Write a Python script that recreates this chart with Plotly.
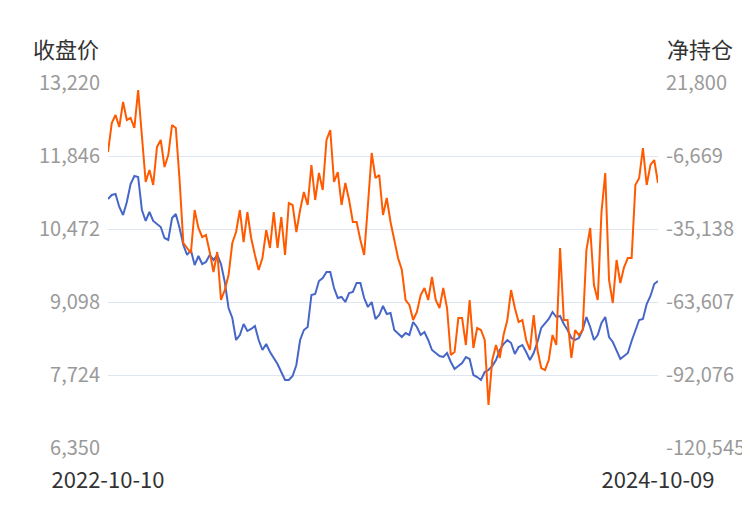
import pandas as pd
import plotly.graph_objects as go

start_date = "2022-10-10"
end_date = "2024-10-09"
step_days = 5

close_price = [
    11037, 11112, 11131, 10886, 10735, 10980, 11319, 11470, 11451, 10830,
    10623, 10792, 10623, 10566, 10510, 10303, 10265, 10679, 10754, 10491,
    10171, 9983, 10077, 9794, 9964, 9813, 9851, 9983, 9889, 9983,
    9813, 9474, 8985, 8797, 8383, 8477, 8684, 8552, 8590, 8646,
    8383, 8195, 8307, 8157, 8044, 7931, 7780, 7630, 7630, 7705,
    7912, 8383, 8571, 8627, 9230, 9249, 9493, 9550, 9663, 9663,
    9361, 9173, 9192, 9098, 9267, 9286, 9456, 9456, 9173, 9004,
    9098, 8778, 8853, 9023, 8872, 8891, 8571, 8514, 8439, 8514,
    8477, 8722, 8627, 8477, 8533, 8383, 8195, 8138, 8082, 8063,
    8138, 7969, 7837, 7893, 7950, 8063, 8025, 7724, 7686, 7630,
    7780, 7818, 7893, 8006, 8195, 8307, 8383, 8326, 8119, 8251,
    8289, 8157, 8006, 8138, 8345, 8609, 8703, 8778, 8910, 8816,
    8835, 8684, 8571, 8420, 8383, 8420, 8571, 8816, 8627, 8383,
    8477, 8703, 8816, 8439, 8345, 8195, 8025, 8082, 8138, 8364,
    8571, 8759, 8778, 9060, 9211, 9437, 9493,
]

net_position = [
    -5110, 6200, 9320, 4640, 14390, 7370, 8150, 4250, 19070, 1520,
    -16810, -12130, -17980, -3160, -430, -10960, -6280, 5420, 4250, -16030,
    -40600, -42550, -44500, -27730, -34750, -38260, -37480, -44110, -51910, -44110,
    -62830, -58930, -53080, -40600, -36310, -27730, -40210, -28510, -38650, -45280,
    -51130, -46450, -35530, -42550, -28510, -42550, -30460, -45280, -25000, -25780,
    -36310, -27730, -20710, -25780, -10180, -23830, -13300, -19930, -430, 3470,
    -16810, -12910, -25780, -17200, -23830, -32410, -32410, -39430, -45280, -25780,
    -5500, -15250, -14080, -29680, -23050, -32410, -39430, -46450, -51130, -62830,
    -64780, -70630, -67510, -60880, -58150, -62830, -53860, -62830, -65950, -58150,
    -65950, -84280, -83110, -69850, -69850, -80380, -62830, -81550, -73750, -74530,
    -78430, -103780, -86230, -80380, -85450, -76480, -70630, -58930, -65950, -71410,
    -70630, -78430, -82330, -68680, -82330, -89350, -90130, -86230, -76480, -80380,
    -42550, -70630, -70630, -85450, -74530, -76480, -74530, -43330, -34750, -56980,
    -62830, -28510, -13300, -55030, -64000, -47230, -56200, -49960, -46450, -46450,
    -17980, -15250, -3550, -17980, -10180, -8230, -17200,
]

left_ticks = [6350, 7724, 9098, 10472, 11846, 13220]
right_ticks = [-120545, -92076, -63607, -35138, -6669, 21800]
x_tick_labels = ["2022-10-10", "2024-10-09"]
left_title = "收盘价"
right_title = "净持仓"

dates = pd.date_range(start_date, end_date, freq=f"{step_days}D")

FONT = "Noto Sans CJK SC"
BLUE = "#4767C8"
ORANGE = "#FF5A00"
GRID = "#E0E6F1"
TICK = "#9A9A9A"

# the page body adds an 8px offset; margins compensate so the plot sits at 108..658 x 83..448
fig = go.Figure()
fig.add_trace(go.Scatter(x=dates, y=close_price, mode="lines", name=left_title,
                         line=dict(color=BLUE, width=2), yaxis="y"))
fig.add_trace(go.Scatter(x=dates, y=net_position, mode="lines", name=right_title,
                         line=dict(color=ORANGE, width=2), yaxis="y2"))

fig.update_layout(
    width=750, height=510,
    margin=dict(l=100, r=100, t=75, b=70, autoexpand=False),
    paper_bgcolor="white", plot_bgcolor="white",
    showlegend=False,
    font=dict(family=FONT),
    xaxis=dict(
        type="date",
        range=[start_date, end_date],
        tickvals=x_tick_labels,
        ticktext=x_tick_labels,
        showgrid=False, zeroline=False, showline=False, ticks="",
        tickfont=dict(size=22, color="#333333", family=FONT),
        ticklabelstandoff=17,
        automargin=False,
    ),
    yaxis=dict(
        range=[left_ticks[0], left_ticks[-1]],
        tickvals=left_ticks,
        ticktext=[f"{v:,}" for v in left_ticks],
        showgrid=True, gridcolor=GRID, gridwidth=1,
        zeroline=False, showline=False, ticks="",
        tickfont=dict(size=20, color=TICK, family=FONT),
        ticklabelstandoff=7,
        automargin=False,
    ),
    yaxis2=dict(
        range=[right_ticks[0], right_ticks[-1]],
        tickvals=right_ticks,
        ticktext=[f"{v:,}" for v in right_ticks],
        overlaying="y", side="right",
        showgrid=False, zeroline=False, showline=False, ticks="",
        tickfont=dict(size=20, color=TICK, family=FONT),
        ticklabelstandoff=7,
        automargin=False,
    ),
    annotations=[
        dict(text=left_title, xref="paper", yref="paper", x=-7 / 550, y=(448 - 48) / 365,
             xanchor="right", yanchor="middle", showarrow=False,
             font=dict(size=22, color="#333333", family=FONT)),
        dict(text=right_title, xref="paper", yref="paper", x=1 + 7 / 550, y=(448 - 48) / 365,
             xanchor="left", yanchor="middle", showarrow=False,
             font=dict(size=22, color="#333333", family=FONT)),
    ],
)

fig.write_html("out.html")
